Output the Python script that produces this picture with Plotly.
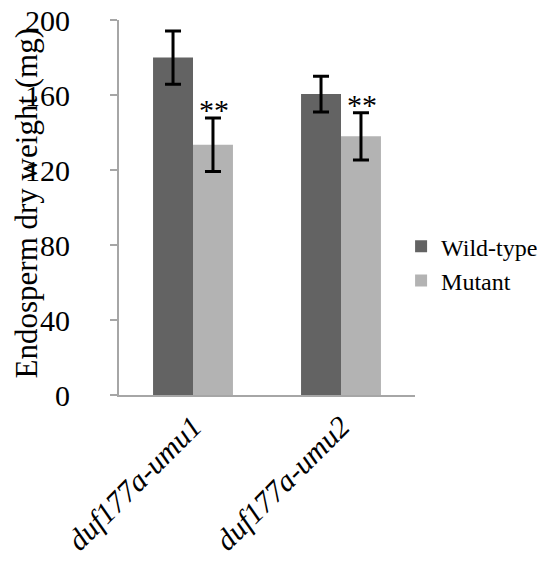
import plotly.graph_objects as go

categories = ["duf177a-umu1", "duf177a-umu2"]
wild_type = [180, 160.5]
wild_type_err = [14.2, 9.5]
mutant = [133.5, 138]
mutant_err = [14.3, 12.6]
significance = ["**", "**"]
y_ticks = [0, 40, 80, 120, 160, 200]
y_title = "Endosperm dry weight (mg)"

FONT = "Liberation Serif"
AXIS_GREY = "#a6a6a6"

fig = go.Figure()
fig.add_trace(go.Bar(
    name="Wild-type", x=categories, y=wild_type,
    marker=dict(color="#636363", line=dict(width=0)),
    error_y=dict(type="data", array=wild_type_err, color="black", thickness=3, width=8),
))
fig.add_trace(go.Bar(
    name="Mutant", x=categories, y=mutant,
    marker=dict(color="#b3b3b3", line=dict(width=0)),
    error_y=dict(type="data", array=mutant_err, color="black", thickness=3, width=8),
))

for cat, m, e, s in zip(categories, mutant, mutant_err, significance):
    fig.add_annotation(x=cat, y=m + e, text=s, showarrow=False, xshift=21,
                       yanchor="middle", yshift=8,
                       font=dict(family=FONT, size=30, color="black"))

# y-axis title as a rotated annotation for precise placement
fig.add_annotation(x=-0.312, y=0.51, xref="paper", yref="paper", text=y_title,
                   textangle=-90, showarrow=False, xanchor="center", yanchor="middle",
                   font=dict(family=FONT, size=31, color="black"))

# page body has an 8 px default margin, so the figure is 8 px smaller and margins shifted
fig.update_layout(
    width=537, height=554,
    margin=dict(l=111, r=130, t=12, b=167, autoexpand=False),
    paper_bgcolor="white", plot_bgcolor="white",
    barmode="group", bargap=0.46, bargroupgap=0,
    font=dict(family=FONT, color="black"),
    showlegend=True,
    legend=dict(x=0.953, xanchor="left", y=0.35, yanchor="middle",
                font=dict(family=FONT, size=24, color="black"),
                bgcolor="rgba(0,0,0,0)", tracegroupgap=0),
)
fig.update_xaxes(
    tickmode="array", tickvals=categories,
    ticktext=["<i>%s</i>" % c for c in categories],
    tickangle=-45, tickfont=dict(family=FONT, size=30, color="black"),
    showline=True, linecolor=AXIS_GREY, linewidth=2, ticks="",
    showgrid=False, automargin=False,
)
fig.update_yaxes(
    range=[0, 200], tickmode="array", tickvals=y_ticks,
    ticktext=[str(v) for v in y_ticks],
    tickfont=dict(family=FONT, size=30, color="black"),
    ticks="outside", ticklen=7, tickwidth=2, tickcolor=AXIS_GREY,
    ticklabelstandoff=34, ticklabeloverflow="allow",
    showline=True, linecolor=AXIS_GREY, linewidth=2, showgrid=False, zeroline=False,
    automargin=False,
)

fig.write_html("out.html")
